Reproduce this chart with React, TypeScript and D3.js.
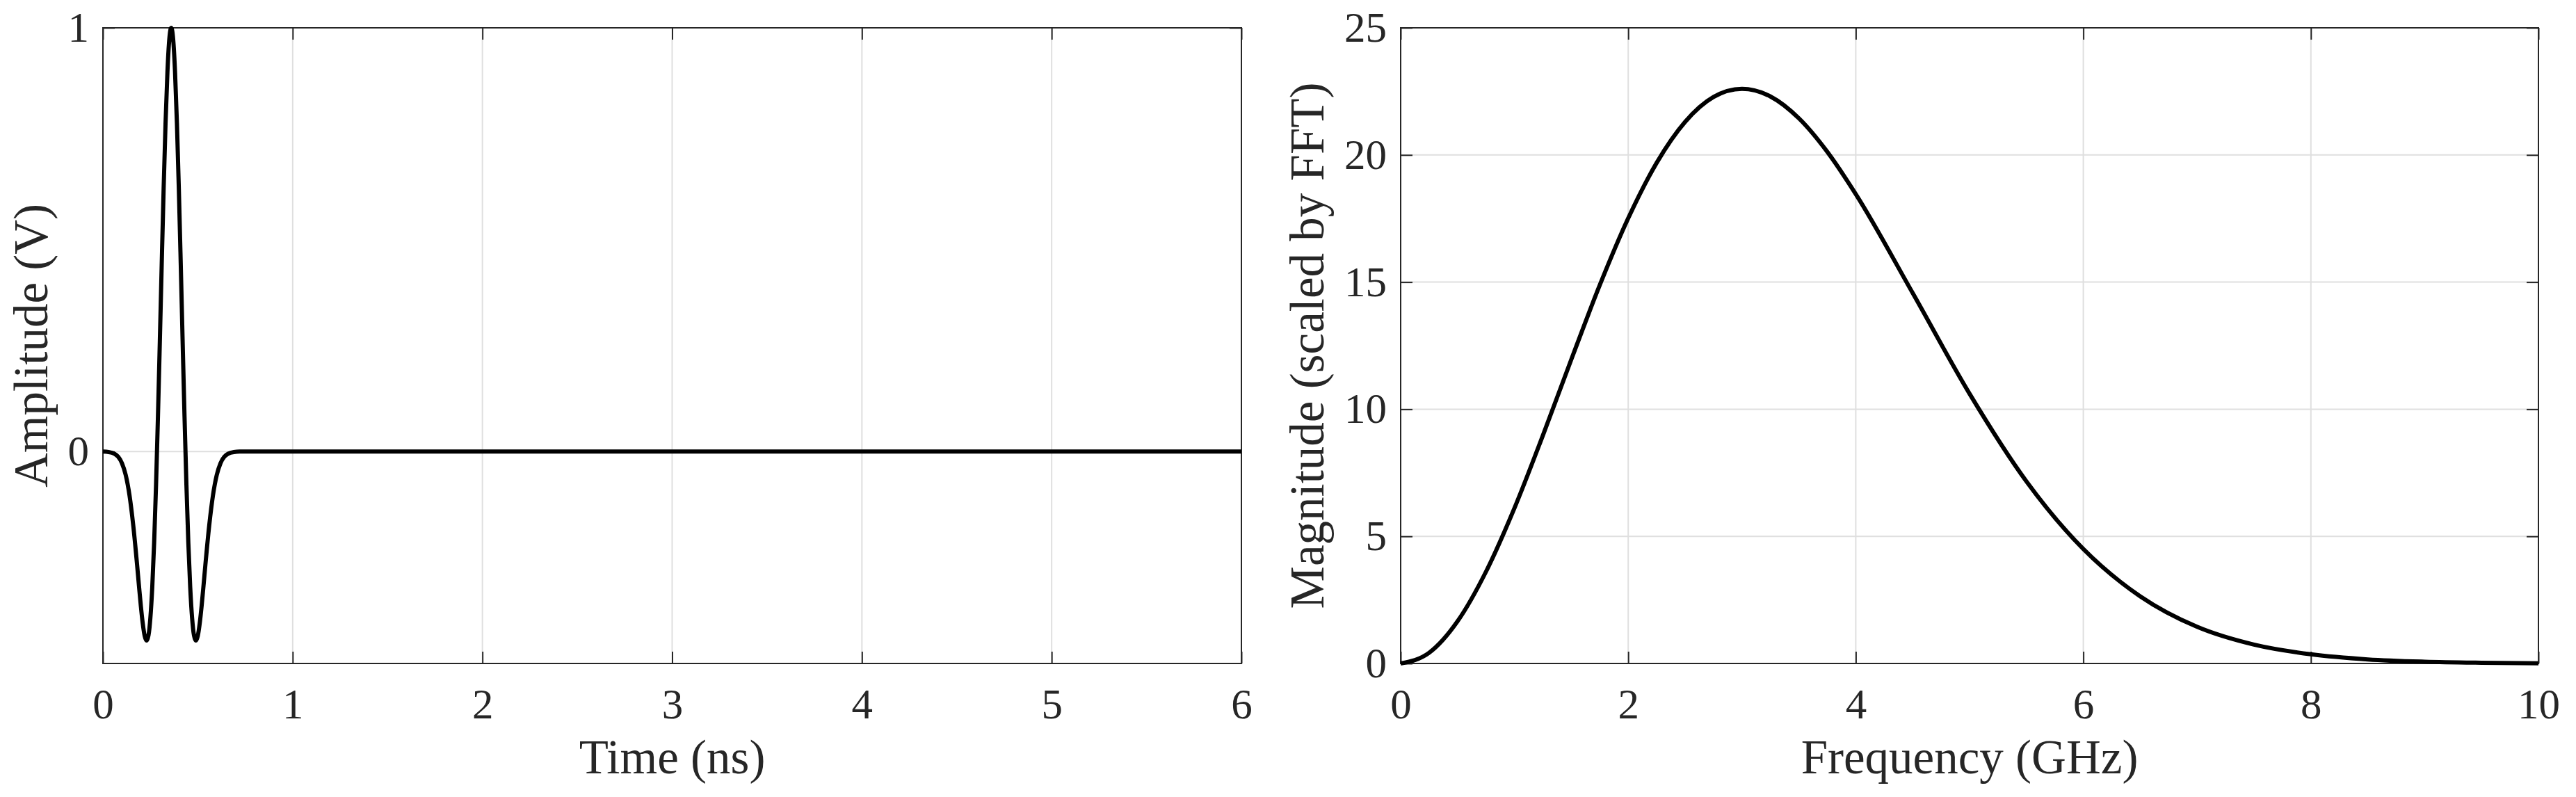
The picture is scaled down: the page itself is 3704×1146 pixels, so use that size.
import { useRef, useEffect } from "react";
import * as d3 from "d3";

// time-domain pulse (ns, V)
const pulseTime = [
  0, 0.03, 0.06, 0.08, 0.1, 0.12, 0.14, 0.16, 0.18, 0.19, 0.2, 0.21, 0.22, 0.23, 0.24, 0.25, 0.26, 0.27,
  0.28, 0.29, 0.3, 0.31, 0.32, 0.33, 0.34, 0.35, 0.36, 0.37, 0.38, 0.39, 0.4, 0.41, 0.42, 0.43, 0.44,
  0.45, 0.46, 0.47, 0.48, 0.49, 0.5, 0.51, 0.52, 0.53, 0.54, 0.56, 0.58, 0.6, 0.62, 0.64, 0.66, 0.69,
  0.72, 6,
];
const pulseAmp = [
  0, -0.001, -0.005, -0.012, -0.027, -0.055, -0.103, -0.175, -0.267, -0.317, -0.365, -0.406, -0.435,
  -0.446, -0.434, -0.393, -0.32, -0.214, -0.078, 0.083, 0.261, 0.445, 0.621, 0.775, 0.896, 0.974, 1,
  0.974, 0.896, 0.775, 0.621, 0.445, 0.261, 0.083, -0.078, -0.214, -0.32, -0.393, -0.434, -0.446,
  -0.435, -0.406, -0.365, -0.317, -0.267, -0.175, -0.103, -0.055, -0.027, -0.012, -0.005, -0.001, 0, 0,
];

// spectrum magnitude (GHz, FFT units)
const specFreq = [
  0, 0.25, 0.5, 0.75, 1, 1.25, 1.5, 1.75, 2, 2.25, 2.5, 2.75, 3, 3.25, 3.5, 3.75, 4, 4.5, 5, 5.5, 6,
  6.5, 7, 7.5, 8, 8.5, 9, 9.5, 10,
];
const specMag = [
  0, 0.42, 1.66, 3.61, 6.11, 8.97, 11.96, 14.88, 17.51, 19.69, 21.3, 22.28, 22.6, 22.3, 21.44, 20.12,
  18.46, 14.57, 10.61, 7.16, 4.5, 2.64, 1.44, 0.74, 0.36, 0.16, 0.07, 0.03, 0.01,
];

const timeTicks = [0, 1, 2, 3, 4, 5, 6];
const ampTicks = [0, 1];
const freqTicks = [0, 2, 4, 6, 8, 10];
const magTicks = [0, 5, 10, 15, 20, 25];

const W = 3704,
  H = 1146,
  top = 40,
  bottom = 954,
  tickLen = 17,
  tickFont = 61,
  labelFont = 69,
  axisColor = "#262626",
  gridColor = "#dfdfdf",
  font = '"Liberation Serif", "Times New Roman", serif';

function Panel({ x0, x1, xDomain, yDomain, xTicks, yTicks, xs, ys, xLabel, yLabel, yLabelX, curve }) {
  const gx = useRef(),
    gy = useRef(),
    gxTop = useRef(),
    gyRight = useRef();

  const x = d3.scaleLinear().domain(xDomain).range([x0, x1]);
  const y = d3.scaleLinear().domain(yDomain).range([bottom, top]);

  const pts = xs.map((d, i) => [d, ys[i]]);
  const line = d3
    .line()
    .x((d) => x(d[0]))
    .y((d) => y(d[1]))
    .curve(curve);

  useEffect(() => {
    const fmt = d3.format("d");
    const style = (g) => {
      g.select(".domain").remove();
      g.selectAll(".tick line").attr("stroke", axisColor).attr("stroke-width", 2);
      g.selectAll(".tick text")
        .attr("fill", axisColor)
        .style("font-family", font)
        .style("font-size", tickFont + "px");
    };
    d3.select(gx.current)
      .call(d3.axisBottom(x).tickValues(xTicks).tickFormat(fmt).tickSize(-tickLen).tickPadding(36))
      .call(style);
    d3.select(gy.current)
      .call(d3.axisLeft(y).tickValues(yTicks).tickFormat(fmt).tickSize(-tickLen).tickPadding(20))
      .call(style);
    d3.select(gxTop.current)
      .call(d3.axisTop(x).tickValues(xTicks).tickSize(-tickLen).tickFormat(() => ""))
      .call(style);
    d3.select(gyRight.current)
      .call(d3.axisRight(y).tickValues(yTicks).tickSize(-tickLen).tickFormat(() => ""))
      .call(style);
    // eslint-disable-next-line
  }, [x0, x1]);

  return (
    <g>
      <g stroke={gridColor} strokeWidth={2}>
        {xTicks
          .filter((t) => t !== xDomain[0] && t !== xDomain[1])
          .map((t) => (
            <line key={"gx" + t} x1={x(t)} x2={x(t)} y1={top} y2={bottom} />
          ))}
        {yTicks
          .filter((t) => t !== yDomain[0] && t !== yDomain[1])
          .map((t) => (
            <line key={"gy" + t} x1={x0} x2={x1} y1={y(t)} y2={y(t)} />
          ))}
      </g>
      <rect x={x0} y={top} width={x1 - x0} height={bottom - top} fill="none" stroke={axisColor} strokeWidth={2} />
      <g ref={gx} transform={`translate(0,${bottom})`} />
      <g ref={gy} transform={`translate(${x0},0)`} />
      <g ref={gxTop} transform={`translate(0,${top})`} />
      <g ref={gyRight} transform={`translate(${x1},0)`} />
      <path d={line(pts)} fill="none" stroke="#000" strokeWidth={6} strokeLinejoin="round" />
      <text
        x={(x0 + x1) / 2}
        y={1112}
        textAnchor="middle"
        fill={axisColor}
        style={{ fontFamily: font, fontSize: labelFont }}
      >
        {xLabel}
      </text>
      <text
        transform={`translate(${yLabelX},${(top + bottom) / 2}) rotate(-90)`}
        textAnchor="middle"
        fill={axisColor}
        style={{ fontFamily: font, fontSize: labelFont }}
      >
        {yLabel}
      </text>
    </g>
  );
}

export default function App() {
  return (
    <svg
      width={W}
      height={H}
      viewBox={[0, 0, W, H]}
      style={{ position: "absolute", left: 0, top: 0, background: "#fff" }}
    >
      <Panel
        x0={148}
        x1={1785}
        xDomain={[0, 6]}
        yDomain={[-0.5, 1]}
        xTicks={timeTicks}
        yTicks={ampTicks}
        xs={pulseTime}
        ys={pulseAmp}
        xLabel="Time (ns)"
        yLabel="Amplitude (V)"
        yLabelX={68}
        curve={d3.curveMonotoneX}
      />
      <Panel
        x0={2014}
        x1={3650}
        xDomain={[0, 10]}
        yDomain={[0, 25]}
        xTicks={freqTicks}
        yTicks={magTicks}
        xs={specFreq}
        ys={specMag}
        xLabel="Frequency (GHz)"
        yLabel="Magnitude (scaled by FFT)"
        yLabelX={1903}
        curve={d3.curveMonotoneX}
      />
    </svg>
  );
}
